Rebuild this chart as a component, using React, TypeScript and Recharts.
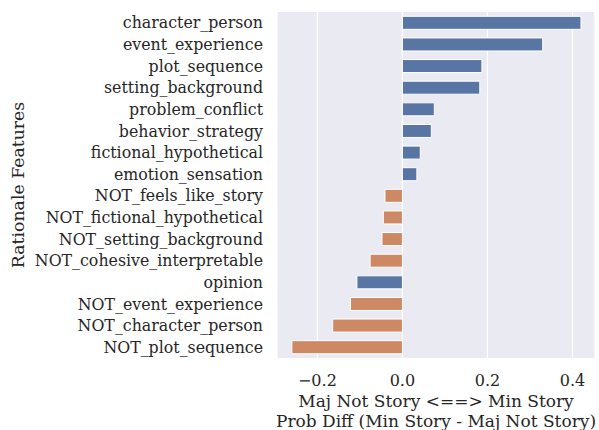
import * as React from "react";
import { BarChart, Bar, XAxis, YAxis, CartesianGrid, Cell, Label } from "recharts";

const features = [
  "character_person",
  "event_experience",
  "plot_sequence",
  "setting_background",
  "problem_conflict",
  "behavior_strategy",
  "fictional_hypothetical",
  "emotion_sensation",
  "NOT_feels_like_story",
  "NOT_fictional_hypothetical",
  "NOT_setting_background",
  "NOT_cohesive_interpretable",
  "opinion",
  "NOT_event_experience",
  "NOT_character_person",
  "NOT_plot_sequence",
];
const probDiff = [
  0.42, 0.33, 0.187, 0.182, 0.075, 0.068, 0.042, 0.034,
  -0.041, -0.045, -0.048, -0.076, -0.107, -0.122, -0.164, -0.26,
];
const xTicks = [-0.2, 0, 0.2, 0.4];

const BLUE = "#5975A4";
const ORANGE = "#CC8963";
const FONT = "'DejaVu Serif', serif";
const TEXT = "#262626";

const rows = features.map((name, i) => ({ name, value: probDiff[i] }));

const fmt = (v: number) => (v < 0 ? "\u2212" + Math.abs(v).toFixed(1) : v.toFixed(1));

function XLabel(props: any) {
  const vb = props.viewBox;
  const cx = vb.x + vb.width / 2;
  const y = vb.y;
  return (
    <g fontFamily={FONT} fontSize={17} fill={TEXT}>
      <text x={cx} y={y + 49} textAnchor="middle">Maj Not Story {"<==>"} Min Story</text>
      <text x={cx} y={y + 69} textAnchor="middle">Prob Diff (Min Story - Maj Not Story)</text>
    </g>
  );
}

export default function App() {
  return (
    <div style={{ position: "absolute", left: 0, top: 0 }}>
      <BarChart
        width={599}
        height={430}
        data={rows}
        layout="vertical"
        margin={{ top: 12, right: 4, bottom: 0, left: 0 }}
        barCategoryGap="20%"
      >
        <CartesianGrid fill="#EAEAF2" stroke="#FFFFFF" strokeWidth={1.2} horizontal={false} />
        <XAxis
          type="number"
          dataKey="value"
          domain={[-0.295, 0.453]}
          ticks={xTicks}
          tickFormatter={fmt}
          axisLine={false}
          tickLine={false}
          tickSize={6}
          tickMargin={11}
          height={72}
          tick={{ fontFamily: FONT, fontSize: 16, fill: TEXT }}
          allowDataOverflow
        >
          <Label content={<XLabel />} />
        </XAxis>
        <YAxis
          type="category"
          dataKey="name"
          width={277}
          axisLine={false}
          tickLine={false}
          tickSize={6}
          tickMargin={8}
          interval={0}
          tick={{ fontFamily: FONT, fontSize: 15.8, fill: TEXT }}
        >
          <Label
            value="Rationale Features"
            angle={-90}
            position="insideLeft"
            offset={18}
            style={{ fontFamily: FONT, fontSize: 17.3, fill: TEXT, textAnchor: "middle" }}
          />
        </YAxis>
        <Bar dataKey="value" isAnimationActive={false} stroke="#FFFFFF" strokeWidth={1}>
          {rows.map((r) => (
            <Cell key={r.name} fill={r.name.startsWith("NOT_") ? ORANGE : BLUE} />
          ))}
        </Bar>
      </BarChart>
    </div>
  );
}
